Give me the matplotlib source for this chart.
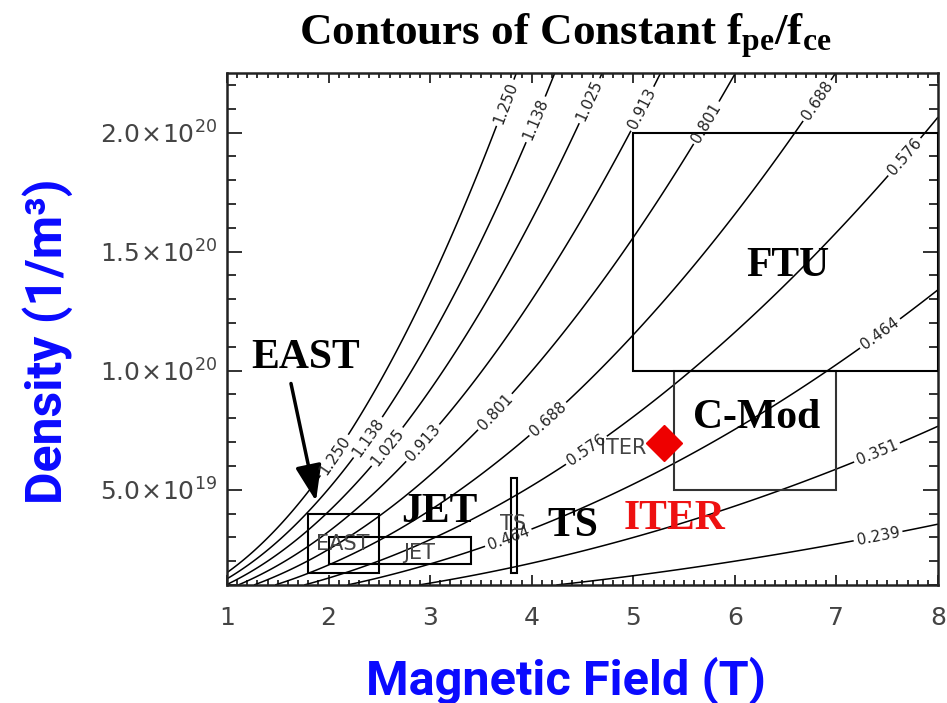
import numpy as np
import matplotlib.pyplot as plt
from matplotlib.patches import Rectangle
from matplotlib.ticker import MultipleLocator

plt.rcParams['mathtext.fontset'] = 'custom'
plt.rcParams['mathtext.rm'] = 'Liberation Serif:bold'
plt.rcParams['mathtext.it'] = 'Liberation Serif:bold'
plt.rcParams['mathtext.bf'] = 'Liberation Serif:bold'
plt.rcParams['mathtext.sf'] = 'DejaVu Sans'

# contour levels of f_pe / f_ce
levels = [0.239, 0.351, 0.464, 0.576, 0.688, 0.801, 0.913, 1.025, 1.138, 1.250]

# where each contour gets its label: (level, field in T)
label_at = [(1.250, 3.74), (1.250, 2.06), (1.138, 4.04), (1.138, 2.39),
            (1.025, 4.57), (1.025, 2.58), (0.913, 5.09), (0.913, 2.93),
            (0.801, 5.72), (0.801, 3.64), (0.688, 6.81), (0.688, 4.16),
            (0.576, 7.67), (0.576, 4.54), (0.464, 7.43), (0.464, 3.77),
            (0.351, 7.40), (0.239, 7.41)]

# machine operating boxes
machines = ['EAST', 'JET', 'TS', 'C-Mod', 'FTU']
b_lo = [1.8, 2.0, 3.8, 5.4, 5.0]
b_hi = [2.5, 3.4, 3.86, 7.0, 8.0]
n_lo = [1.5e19, 1.9e19, 1.5e19, 5.0e19, 1.0e20]
n_hi = [4.0e19, 3.0e19, 5.5e19, 1.0e20, 2.0e20]

iter_b = 5.3
iter_n = 6.95e19

xticks = [1, 2, 3, 4, 5, 6, 7, 8]
yticks = [5e19, 1e20, 1.5e20, 2e20]
ytick_labels = [r'$\mathsf{5.0\!\times\!10^{19}}$', r'$\mathsf{1.0\!\times\!10^{20}}$',
                r'$\mathsf{1.5\!\times\!10^{20}}$', r'$\mathsf{2.0\!\times\!10^{20}}$']

# f_pe = 8.98 sqrt(n) Hz, f_ce = 28 GHz/T * B
def ratio(b, n):
    return 8.98 * np.sqrt(n) / (2.8e10 * b)

def density(r, b):
    return (r * b * 2.8e10 / 8.98) ** 2

fig = plt.figure(figsize=(9.47, 7.03), dpi=100)
ax = fig.add_axes([0.2397, 0.1679, 0.7508, 0.7283])

B, N = np.meshgrid(np.linspace(1, 8, 500), np.linspace(1e19, 2.25e20, 500))
cs = ax.contour(B, N, ratio(B, N), levels=levels, colors='k', linewidths=1.1)
ax.clabel(cs, fmt='%.3f', fontsize=11, colors='#222222', inline=True,
          inline_spacing=3,
          manual=[(b, density(r, b)) for r, b in label_at])

for name, x0, x1, y0, y1 in zip(machines, b_lo, b_hi, n_lo, n_hi):
    col = '#333333' if name == 'C-Mod' else 'k'
    ax.add_patch(Rectangle((x0, y0), x1 - x0, y1 - y0, fill=False,
                           ec=col, lw=1.5, zorder=3))

ax.plot(iter_b, iter_n, 'D', color='#ee0000', ms=18, zorder=5)

# small labels drawn with the boxes
small = dict(fontsize=15, color='#444444', va='center', ha='center')
ax.text(2.14, 2.72e19, 'EAST', **small)
ax.text(2.89, 2.34e19, 'JET', **small)
ax.text(3.82, 3.56e19, 'TS', **small)
ax.text(iter_b - 0.17, 6.74e19, 'ITER', fontsize=15, color='#444444',
        va='center', ha='right')

big = dict(family='Liberation Serif', fontweight='bold', fontsize=30,
           ha='center', va='center', zorder=6)
ax.text(1.77, 1.054e20, 'EAST', **big)
ax.text(3.09, 4.06e19, 'JET', **big)
ax.text(4.40, 3.47e19, 'TS', **big)
ax.text(5.41, 3.77e19, 'ITER', color='#ee1111', **big)
ax.text(6.21, 8.03e19, 'C-Mod', **big)
ax.text(6.52, 1.44e20, 'FTU', **big)
ax.annotate('', xy=(1.876, 4.52e19), xytext=(1.63, 9.46e19),
            arrowprops=dict(arrowstyle='-|>,head_length=1.1,head_width=0.4',
                            lw=2.5, color='k', mutation_scale=20,
                            shrinkA=0, shrinkB=0))

ax.set_xlim(1, 8)
ax.set_ylim(1e19, 2.25e20)
ax.set_xticks(xticks)
ax.set_xticklabels([str(v) for v in xticks])
ax.set_yticks(yticks)
ax.set_yticklabels(ytick_labels)
ax.xaxis.set_minor_locator(MultipleLocator(0.1))
ax.yaxis.set_minor_locator(MultipleLocator(1e19))
ax.tick_params(which='both', direction='in', top=True, right=True,
               width=1.3, colors='#222222', labelcolor='#444444', labelsize=18)
ax.tick_params(axis='x', which='major', length=7, pad=15)
ax.tick_params(axis='x', which='minor', length=3.5)
ax.tick_params(axis='y', which='major', length=11, pad=7)
ax.tick_params(axis='y', which='minor', length=6.5)
for sp in ax.spines.values():
    sp.set_linewidth(1.8)
    sp.set_color('#222222')

fig.text(0.5966, 0.950, r'Contours of Constant f$_\mathrm{pe}$/f$_\mathrm{ce}$',
         family='Liberation Serif', fontweight='bold', fontsize=32.5,
         ha='center', va='center')
fig.text(0.598, 0.0128, 'Magnetic Field (T)', family='Roboto',
         fontweight='bold', fontsize=35, color='#0a0aff',
         ha='center', va='baseline')
fig.text(0.0507, 0.515, 'Density (1/m³)', family='Roboto', fontweight='bold',
         fontsize=36, color='#0a0aff', rotation=90, ha='center', va='center')

fig.savefig('out.png', dpi=100)
